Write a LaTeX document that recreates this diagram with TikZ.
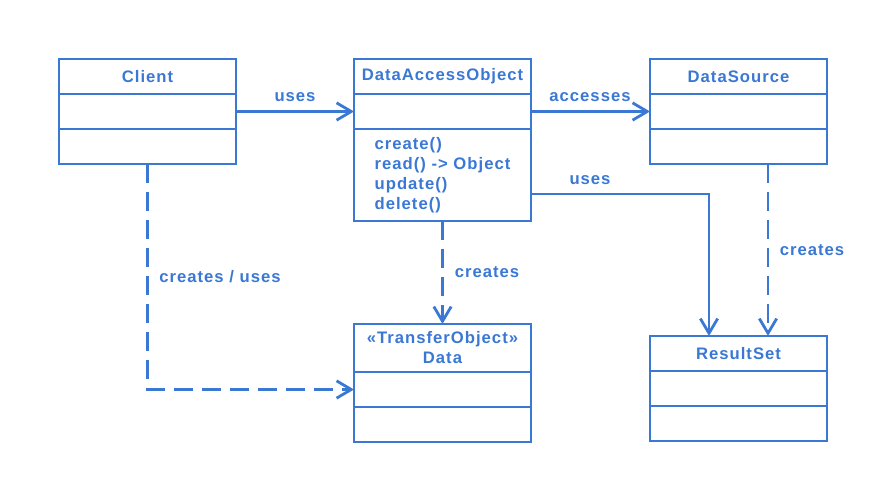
\documentclass[tikz,border=0pt]{standalone}
\usepackage{fontspec}
\setmainfont[LetterSpace=6]{Liberation Sans}
\usepackage{tikz}
\usepackage{xcolor}
\usetikzlibrary{arrows.meta, calc, positioning}
\definecolor{umlblue}{RGB}{58,120,212}
\tikzset{
  umlbox/.style={draw=umlblue, line width=2.1pt, minimum width=132.75pt, minimum height=26.25pt,
    outer sep=0pt, inner sep=0pt, text=umlblue, font=\bfseries\fontsize{12.5}{15}\selectfont},
  lbl/.style={text=umlblue, font=\bfseries\fontsize{12.5}{15}\selectfont},
  uses/.style={draw=umlblue, line width=2.1pt, -{Straight Barb[length=11pt,width=13pt]}},
  creates/.style={uses, dash pattern=on 14pt off 7pt},
}
\begin{document}
\begin{tikzpicture}[x=0.75pt, y=-0.75pt]
                        \useasboundingbox (0,0) rectangle (888,502);
                        % classes
                        \node[umlbox, anchor=north west] (client-t) at (59,59) {Client};
                        \node[umlbox, below=0pt of client-t] (client-a) {};
                        \node[umlbox, below=0pt of client-a] (client-o) {};
                        \node[umlbox, anchor=north west] (dao-t) at (354,59) {DataAccessObject};
                        \node[umlbox, below=0pt of dao-t] (dao-a) {};
                        \node[umlbox, below=0pt of dao-a, minimum height=69pt, align=left] (dao-o)
                            {create()\\read() -> Object\\update()\\delete()};
                        \node[umlbox, anchor=north west] (source-t) at (650,59) {DataSource};
                        \node[umlbox, below=0pt of source-t] (source-a) {};
                        \node[umlbox, below=0pt of source-a] (source-o) {};
                        \node[umlbox, anchor=north west, minimum height=36pt, align=center] (data-t) at (354,324)
                            {«TransferObject»\\Data};
                        \node[umlbox, below=0pt of data-t] (data-a) {};
                        \node[umlbox, below=0pt of data-a] (data-o) {};
                        \node[umlbox, anchor=north west] (result-t) at (650,336) {ResultSet};
                        \node[umlbox, below=0pt of result-t] (result-a) {};
                        \node[umlbox, below=0pt of result-a] (result-o) {};
                        % labels
                        \node[lbl] (uses1) at (295,97) {uses};
                        \node[lbl] (accesses) at (590,97) {accesses};
                        \node[lbl] (uses2) at (590,180) {uses};
                        \node[lbl] (creates1) at (812,250) {creates};
                        \node[lbl] (creates2) at (487,272) {creates};
                        \node[lbl] (creates3) at (220,277) {creates / uses};
                        % connectors
                        \draw[uses] (client-a) -- (dao-a);
                        \draw[uses] (dao-a) -- (source-a);
                        \draw[uses] ($(dao-o.south east)+(0,-27)$) -| ($(result-t.north west)!1/3!(result-t.north east)$);
                        \draw[creates] ($(source-o.south west)!2/3!(source-o.south east)$)
                            -- ($(result-t.north west)!2/3!(result-t.north east)$);
                        \draw[creates] (dao-o) -- (data-t);
                        \draw[creates] (client-o) |- (data-a);
                    \end{tikzpicture}
\end{document}
